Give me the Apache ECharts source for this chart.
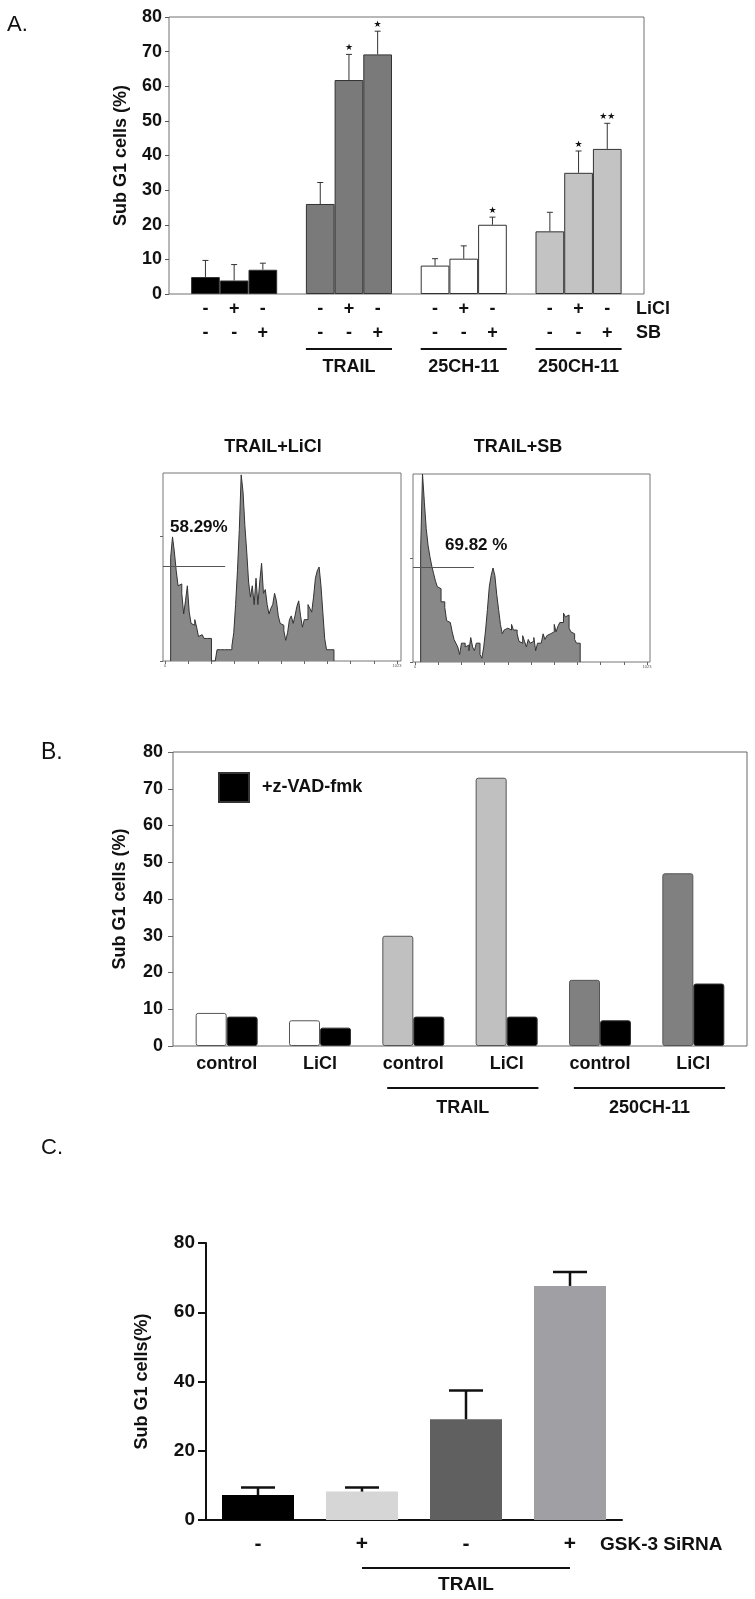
<!DOCTYPE html>
<html>
<head>
<meta charset="utf-8">
<title>Sub G1 cells</title>
<script src="https://cdn.jsdelivr.net/npm/echarts@6/dist/echarts.min.js"></script>
<style>
html, body { margin: 0; padding: 0; background: #fff; }
#chart { width: 755px; height: 1599px; }
</style>
</head>
<body>
<div id="chart"></div>
<script>
// ---------- panel A : bars ----------
var posA = [0, 1, 2, 4, 5, 6, 8, 9, 10, 12, 13, 14];
var valuesA = [4.9, 3.9, 7.0, 26, 61.8, 69.2, 8.2, 10.2, 20, 18.1, 35, 41.9];
var errA = [4.8, 4.6, 1.9, 6.2, 7.4, 6.7, 2.0, 3.7, 2.2, 5.5, 6.3, 7.4];
var starsA = [0, 0, 0, 0, 1, 1, 0, 0, 1, 0, 1, 2];
var colorsA = ['#000', '#000', '#000', '#7a7a7a', '#7a7a7a', '#7a7a7a',
  '#fff', '#fff', '#fff', '#c3c3c3', '#c3c3c3', '#c3c3c3'];
var liclA = ['-', '+', '-', '-', '+', '-', '-', '+', '-', '-', '+', '-'];
var sbA = ['-', '-', '+', '-', '-', '+', '-', '-', '+', '-', '-', '+'];
var groupsA = ['TRAIL', '25CH-11', '250CH-11'];
var groupSpanA = [[4, 6], [8, 10], [12, 14]];

// ---------- panel A : DNA histograms (bin = 8 channels) ----------
var binW = 8;
var startLiCl = 3;
var histLiCl = [55, 66, 58, 48, 40, 41, 36, 25, 32, 40, 26, 20, 19, 22, 18, 13, 14, 15, 12, 12, 12, 12,
  0, 0, 0, 6, 6, 6, 6, 6, 6, 6, 6, 8, 15, 30, 48, 70, 99, 90, 72, 58, 42, 34, 40, 30, 44, 30, 42, 52,
  36, 38, 30, 25, 28, 30, 36, 32, 24, 20, 19, 16, 11, 15, 22, 24, 20, 24, 29, 32, 24, 18, 22, 22, 30,
  28, 26, 34, 44, 48, 50, 40, 26, 12, 6, 6, 6, 6];
var startSB = 3;
var histSB = [60, 100, 85, 71, 62, 56, 51, 47, 43, 40, 39, 32, 32, 29, 22, 21, 20, 16, 12, 10,
  8, 4, 10, 10, 8, 9, 6, 13, 8, 6, 10, 10, 4, 2, 8, 17, 28, 40, 46, 50, 46, 36, 28, 20, 15, 17, 18,
  19, 17, 20, 17, 17, 15, 11, 10, 14, 11, 8, 12, 10, 11, 13, 6, 10, 10, 11, 15, 12, 14, 15, 16, 16,
  20, 16, 19, 21, 21, 26, 24, 25, 18, 16, 15, 12, 10, 10];
var gateLiCl = [-9, 259, 50.6];   // from, to, height
var gateSB = [-9, 254, 50.4];
var chTicks = [0, 100, 200, 300, 400, 500, 600, 700, 800, 900, 1000];

// ---------- panel B ----------
var catsB = ['control', 'LiCl', 'control', 'LiCl', 'control', 'LiCl'];
var noVadB = [9, 7, 30, 73, 18, 47];
var zVadB = [8, 5, 8, 8, 7, 17];
var colorsB = ['#fff', '#fff', '#c0c0c0', '#c0c0c0', '#808080', '#808080'];
var groupsB = ['TRAIL', '250CH-11'];
var groupSpanB = [[2, 3], [4, 5]];

// ---------- panel C ----------
var signsC = ['-', '+', '-', '+'];
var valuesC = [7.2, 8.2, 29.1, 67.6];
var errC = [2.2, 1.2, 8.3, 4.0];
var colorsC = ['#000', '#d6d6d6', '#606060', '#a0a0a4'];
var groupsC = ['TRAIL'];
var groupSpanC = [[1, 3]];

var FONT = '"Liberation Sans", Arial, sans-serif';

function makeErrorBar(capHalf, width, color) {
  return function (params, api) {
    var x = api.value(0);
    var base = api.coord([x, api.value(1)]);
    var top = api.coord([x, api.value(2)]);
    var stars = api.value(3) || 0;
    var kids = [
      { type: 'line', shape: { x1: base[0], y1: base[1], x2: top[0], y2: top[1] }, style: { stroke: color, lineWidth: width } },
      { type: 'line', shape: { x1: top[0] - capHalf, y1: top[1], x2: top[0] + capHalf, y2: top[1] }, style: { stroke: color, lineWidth: width } }
    ];
    if (stars > 0) {
      kids.push({ type: 'text', x: top[0], y: top[1] - 2,
        style: { text: new Array(stars + 1).join('\u2605'), fill: '#111', font: '9px "DejaVu Sans"',
          align: 'center', verticalAlign: 'bottom', textAlign: 'center', textVerticalAlign: 'bottom' } });
    }
    return { type: 'group', children: kids };
  };
}

function makeBracket(names, padL, padR, lineDy, textDy, lineW, fontSize) {
  return function (params, api) {
    var p0 = api.coord([api.value(0) - padL, 0]);
    var p1 = api.coord([api.value(1) + padR, 0]);
    return { type: 'group', children: [
      { type: 'line', shape: { x1: p0[0], y1: p0[1] + lineDy, x2: p1[0], y2: p1[1] + lineDy }, style: { stroke: '#111', lineWidth: lineW } },
      { type: 'text', x: (p0[0] + p1[0]) / 2, y: p0[1] + textDy,
        style: { text: names[params.dataIndex], fill: '#111', font: 'bold ' + fontSize + 'px ' + FONT,
          align: 'center', verticalAlign: 'middle', textAlign: 'center', textVerticalAlign: 'middle' } }
    ] };
  };
}

function histData(start, counts) {
  var d = [[start * binW, 0]];
  counts.forEach(function (c, i) { d.push([(start + i) * binW, c]); });
  d.push([(start + counts.length) * binW, 0]);
  return d;
}

function txt(text, x, y, size, weight, align) {
  return { type: 'text', x: x, y: y,
    style: { text: text, fill: '#111', font: (weight || 'bold') + ' ' + size + 'px ' + FONT,
      align: align || 'left', verticalAlign: 'middle', textAlign: align || 'left', textVerticalAlign: 'middle' } };
}

var boldLabel = { fontFamily: FONT, fontWeight: 'bold', color: '#111' };
var noLine = { show: false, onZero: false };

var myChart = echarts.init(document.getElementById('chart'));
myChart.setOption({
  animation: false,
  textStyle: { fontFamily: FONT },
  legend: {
    data: ['+z-VAD-fmk'], left: 213, top: 767, icon: 'rect', itemWidth: 30, itemHeight: 29,
    selectedMode: false,
    textStyle: { fontFamily: FONT, fontWeight: 'bold', fontSize: 18, color: '#111', padding: [0, 0, 0, 8] }
  },
  grid: [
    { left: 169, top: 17, width: 475, height: 277, show: true, borderColor: '#707070', borderWidth: 1 },
    { left: 163, top: 473, width: 238, height: 188, show: true, borderColor: '#777', borderWidth: 1 },
    { left: 413, top: 474, width: 237, height: 188, show: true, borderColor: '#777', borderWidth: 1 },
    { left: 173, top: 752, width: 574, height: 294, show: true, borderColor: '#666', borderWidth: 1 },
    { left: 206, top: 1243, width: 416, height: 277 }
  ],
  xAxis: [
    { type: 'value', gridIndex: 0, min: -1.27, max: 15.28,
      axisLine: noLine, axisTick: { show: false }, splitLine: { show: false },
      axisLabel: Object.assign({ customValues: posA, fontSize: 18, lineHeight: 24, margin: 3,
        formatter: function (v) { var i = posA.indexOf(Math.round(v)); return liclA[i] + '\n' + sbA[i]; } }, boldLabel) },
    { type: 'value', gridIndex: 1, min: -9, max: 1017,
      axisLine: noLine, splitLine: { show: false },
      axisTick: { customValues: chTicks, length: 3, lineStyle: { color: '#666' } },
      axisLabel: { customValues: [0, 1000], fontSize: 4, color: '#555', margin: 3,
        formatter: function (v) { return v === 0 ? '0' : '1023'; } } },
    { type: 'value', gridIndex: 2, min: -9, max: 1013,
      axisLine: noLine, splitLine: { show: false },
      axisTick: { customValues: chTicks, length: 3, lineStyle: { color: '#666' } },
      axisLabel: { customValues: [0, 1000], fontSize: 4, color: '#555', margin: 3,
        formatter: function (v) { return v === 0 ? '0' : '1023'; } } },
    { type: 'value', gridIndex: 3, min: -0.575, max: 5.575,
      axisLine: noLine, axisTick: { show: false }, splitLine: { show: false },
      axisLabel: Object.assign({ customValues: [0, 1, 2, 3, 4, 5], fontSize: 18, margin: 9,
        formatter: function (v) { return catsB[Math.round(v)]; } }, boldLabel) },
    { type: 'category', gridIndex: 4, data: signsC,
      axisLine: { onZero: false, lineStyle: { color: '#111', width: 2 } },
      axisTick: { alignWithLabel: true, length: 8, lineStyle: { color: '#111', width: 2 } },
      axisLabel: Object.assign({ fontSize: 21, margin: 14 }, boldLabel) }
  ],
  yAxis: [
    { type: 'value', gridIndex: 0, min: 0, max: 80, interval: 10,
      name: 'Sub G1 cells (%)', nameLocation: 'middle', nameRotate: 90, nameGap: 39,
      nameTextStyle: { fontFamily: FONT, fontWeight: 'bold', fontSize: 18, color: '#111' },
      axisLine: noLine, splitLine: { show: false },
      axisTick: { show: true, length: 4, lineStyle: { color: '#555' } },
      axisLabel: Object.assign({ fontSize: 18, margin: 7 }, boldLabel) },
    { type: 'value', gridIndex: 1, min: 0, max: 100,
      axisLine: noLine, splitLine: { show: false }, axisLabel: { show: false },
      axisTick: { show: true, customValues: [0, 66.3], length: 3, lineStyle: { color: '#666' } } },
    { type: 'value', gridIndex: 2, min: 0, max: 100,
      axisLine: noLine, splitLine: { show: false }, axisLabel: { show: false },
      axisTick: { show: true, customValues: [0, 55], length: 3, lineStyle: { color: '#666' } } },
    { type: 'value', gridIndex: 3, min: 0, max: 80, interval: 10,
      name: 'Sub G1 cells (%)', nameLocation: 'middle', nameRotate: 90, nameGap: 44,
      nameTextStyle: { fontFamily: FONT, fontWeight: 'bold', fontSize: 18, color: '#111' },
      axisLine: noLine, splitLine: { show: false },
      axisTick: { show: true, length: 5, lineStyle: { color: '#666' } },
      axisLabel: Object.assign({ fontSize: 18, margin: 10 }, boldLabel) },
    { type: 'value', gridIndex: 4, min: 0, max: 80, interval: 20,
      name: 'Sub G1 cells(%)', nameLocation: 'middle', nameRotate: 90, nameGap: 55,
      nameTextStyle: { fontFamily: FONT, fontWeight: 'bold', fontSize: 18, color: '#111' },
      axisLine: { show: true, onZero: false, lineStyle: { color: '#111', width: 2 } }, splitLine: { show: false },
      axisTick: { show: true, length: 8, lineStyle: { color: '#111', width: 2 } },
      axisLabel: Object.assign({ fontSize: 19, margin: 11 }, boldLabel) }
  ],
  series: [
    // panel A
    { type: 'bar', name: 'A', xAxisIndex: 0, yAxisIndex: 0, barWidth: 28.7,
      itemStyle: { borderColor: '#333', borderWidth: 1 },
      data: posA.map(function (p, i) { return { value: [p, valuesA[i]], itemStyle: { color: colorsA[i] } }; }) },
    { type: 'custom', name: 'A err', xAxisIndex: 0, yAxisIndex: 0, clip: false, z: 5,
      renderItem: makeErrorBar(3, 1, '#333'), encode: { x: 0, y: 2 },
      data: posA.map(function (p, i) { return [p, valuesA[i], valuesA[i] + errA[i], starsA[i]]; }) },
    { type: 'custom', name: 'A groups', xAxisIndex: 0, yAxisIndex: 0, clip: false,
      renderItem: makeBracket(groupsA, 0.5, 0.5, 55, 73, 2, 18), encode: { x: [0, 1], y: 2 },
      data: groupSpanA.map(function (g) { return [g[0], g[1], 0]; }) },
    // histograms
    { type: 'line', name: 'TRAIL+LiCl', xAxisIndex: 1, yAxisIndex: 1, step: 'end', symbol: 'none',
      lineStyle: { color: '#333', width: 1 }, areaStyle: { color: '#888', opacity: 1 },
      data: histData(startLiCl, histLiCl),
      markLine: { symbol: 'none', silent: true, label: { show: false },
        lineStyle: { color: '#555', width: 1, type: 'solid' },
        data: [[{ coord: [gateLiCl[0], gateLiCl[2]] }, { coord: [gateLiCl[1], gateLiCl[2]] }]] } },
    { type: 'line', name: 'TRAIL+SB', xAxisIndex: 2, yAxisIndex: 2, step: 'end', symbol: 'none',
      lineStyle: { color: '#333', width: 1 }, areaStyle: { color: '#888', opacity: 1 },
      data: histData(startSB, histSB),
      markLine: { symbol: 'none', silent: true, label: { show: false },
        lineStyle: { color: '#555', width: 1, type: 'solid' },
        data: [[{ coord: [gateSB[0], gateSB[2]] }, { coord: [gateSB[1], gateSB[2]] }]] } },
    // panel B
    { type: 'bar', name: 'no z-VAD', xAxisIndex: 3, yAxisIndex: 3, barWidth: 31, barGap: '0%',
      itemStyle: { borderColor: '#555', borderWidth: 1, borderRadius: 2 },
      data: noVadB.map(function (v, i) { return { value: [i, v], itemStyle: { color: colorsB[i] } }; }) },
    { type: 'bar', name: '+z-VAD-fmk', xAxisIndex: 3, yAxisIndex: 3, barWidth: 31, barGap: '0%',
      itemStyle: { color: '#000', borderColor: '#333', borderWidth: 1, borderRadius: 2 },
      data: zVadB.map(function (v, i) { return [i, v]; }) },
    { type: 'custom', name: 'B groups', xAxisIndex: 3, yAxisIndex: 3, clip: false,
      renderItem: makeBracket(groupsB, 0.28, 0.34, 42, 62, 2, 18), encode: { x: [0, 1], y: 2 },
      data: groupSpanB.map(function (g) { return [g[0], g[1], 0]; }) },
    // panel C
    { type: 'bar', name: 'C', xAxisIndex: 4, yAxisIndex: 4, barWidth: 72,
      data: valuesC.map(function (v, i) { return { value: v, itemStyle: { color: colorsC[i] } }; }) },
    { type: 'custom', name: 'C err', xAxisIndex: 4, yAxisIndex: 4, clip: false, z: 5,
      renderItem: makeErrorBar(17, 2.5, '#111'), encode: { x: 0, y: 2 },
      data: valuesC.map(function (v, i) { return [i, v, v + errC[i], 0]; }) },
    { type: 'custom', name: 'C groups', xAxisIndex: 4, yAxisIndex: 4, clip: false,
      renderItem: makeBracket(groupsC, -0.05, 0.04, 48, 65, 2, 19), encode: { x: [0, 1], y: 2 },
      data: groupSpanC.map(function (g) { return [g[0], g[1], 0]; }) }
  ],
  graphic: [
    txt('A.', 7, 25, 22, 'normal'),
    txt('LiCl', 636, 309, 18),
    txt('SB', 636, 333, 18),
    txt('TRAIL+LiCl', 273, 447, 18, 'bold', 'center'),
    txt('TRAIL+SB', 518, 447, 18, 'bold', 'center'),
    txt('58.29%', 170, 527, 17),
    txt('69.82 %', 445, 545, 17),
    txt('B.', 41, 753, 23, 'normal'),
    txt('C.', 41, 1148, 22, 'normal'),
    txt('GSK-3 SiRNA', 600, 1545, 19)
  ]
});
</script>
</body>
</html>
